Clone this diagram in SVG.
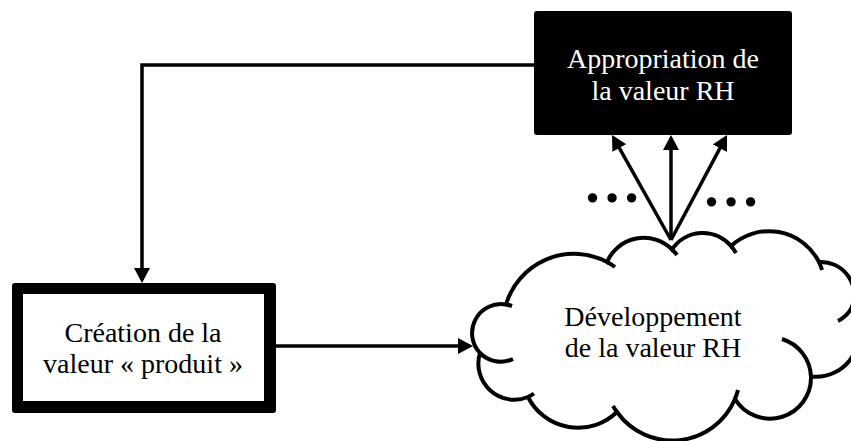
<svg xmlns="http://www.w3.org/2000/svg" width="851" height="441" viewBox="0 0 851 441">
<style>
.lbl{font-family:"Liberation Serif","Times New Roman",serif;font-size:28px;text-anchor:middle}
.dark{fill:#ffffff}
.ink{fill:#000000}
.conn{fill:none;stroke:#000;stroke-width:3.5}
.cloud{fill:#fff;stroke:#000;stroke-width:4}
.tail{fill:none;stroke:#000;stroke-width:4}
.dots{font-family:"Liberation Serif","Times New Roman",serif;font-size:58px;font-weight:bold;fill:#000}
</style>
<defs>
<marker id="ah" markerUnits="userSpaceOnUse" markerWidth="16" markerHeight="16" refX="12" refY="8" orient="auto">
<path d="M0,0 L15,8 L0,16 Z" fill="#000"/>
</marker>
</defs>
<rect width="851" height="441" fill="#fff"/>
<g id="developpement">
<path class="cloud" d="M506 304.5 A71 71 0 0 1 607 262 A40 40 0 0 1 672 249.5 A37 37 0 0 1 731 246 A56 56 0 0 1 819 262 A33 33 0 0 1 851 309 A43 43 0 0 1 811 376.5 A41 41 0 0 1 735 399 A68 68 0 0 1 617 412 A56 56 0 0 1 528 397 A36 36 0 0 1 480 353 A29 29 0 0 1 506 304.5 Z"/>
<path class="tail" d="M851 309 A33 33 0 0 1 838 321 M782 339 A41 41 0 0 1 811 376.5 M513 359 A29 29 0 0 1 480 353 M506 304.5 A29 29 0 0 1 512 306 M607 262 A71 71 0 0 1 615 267 M672 249.5 A40 40 0 0 1 677 255 M731 246 A37 37 0 0 1 736 253 M819 262 A56 56 0 0 1 822 270 M738 390 A68 68 0 0 1 735 399 M617 412 A68 68 0 0 1 613 406 M534 393.5 A36 36 0 0 1 528 397"/>
<text class="lbl ink" x="653" y="326">Développement</text>
<text class="lbl ink" x="653" y="357">de la valeur RH</text>
</g>
<g id="appropriation">
<rect x="534" y="11" width="258" height="124" rx="3" fill="#000"/>
<text class="lbl dark" x="663" y="68">Appropriation de</text>
<text class="lbl dark" x="663" y="100">la valeur RH</text>
</g>
<g id="creation">
<rect x="12" y="283" width="264" height="130" rx="3" fill="#000"/>
<rect x="23" y="294" width="241" height="107" fill="#fff"/>
<text class="lbl ink" x="143" y="342">Création de la</text>
<text class="lbl ink" x="143" y="373">valeur « produit »</text>
</g>
<g id="connectors">
<path class="conn" d="M534 65 H142 V280" marker-end="url(#ah)"/>
<path class="conn" d="M276 346 H470" marker-end="url(#ah)"/>
<path class="conn" d="M671 240 L613.5 137.6" marker-end="url(#ah)"/>
<path class="conn" d="M671 240 L671 138" marker-end="url(#ah)"/>
<path class="conn" d="M671 240 L725.6 137.6" marker-end="url(#ah)"/>
<text class="dots" x="583" y="202">…</text>
<text class="dots" x="702" y="206">…</text>
</g>
</svg>
